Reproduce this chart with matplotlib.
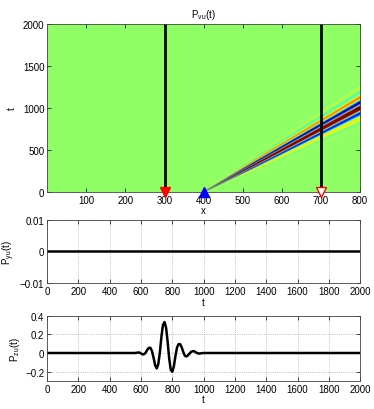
import matplotlib
matplotlib.use("Agg")
import matplotlib.pyplot as plt
import numpy as np

plt.rcParams["font.family"] = ["Liberation Sans", "DejaVu Sans"]
plt.rcParams["mathtext.fontset"] = "custom"
plt.rcParams["mathtext.rm"] = "Liberation Sans"
plt.rcParams["font.size"] = 7

# receivers / source on the x axis
RECEIVER_X = [300, 700]
SOURCE_X = 400
WAVE_SPEED = 0.4

# P_zu(t)
PZU_T = [0, 550, 560, 570, 580, 590, 600, 610, 620, 630, 640, 650, 660, 670, 680,
         690, 700, 710, 720, 730, 740, 750, 760, 770, 780, 790, 800, 810, 820,
         830, 840, 850, 860, 870, 880, 890, 900, 910, 920, 930, 940, 950, 960,
         970, 980, 990, 1000, 2000]
PZU_V = [0.0, 0.0, 0.0, 0.002, 0.005, 0.005, -0.005, -0.015, -0.012, 0.005, 0.035,
         0.055, 0.055, 0.02, -0.05, -0.13, -0.165, -0.12, 0.0, 0.17, 0.30, 0.33,
         0.27, 0.12, -0.06, -0.18, -0.20, -0.14, -0.03, 0.06, 0.095, 0.095, 0.06,
         0.01, -0.03, -0.037, -0.025, -0.005, 0.012, 0.02, 0.018, 0.008, -0.002,
         -0.006, -0.004, -0.001, 0.0, 0.0]

# P_yu(t) is flat zero
PYU_T = [0, 2000]
PYU_V = [0.0, 0.0]

# P_vu(x, t): the recorded pulse travelling away from the source, spreading with distance
xs = np.arange(0, 801, 2)
ts = np.arange(0, 2001, 4)
X, T = np.meshgrid(xs, ts)
dist = X - SOURCE_X
stretch = 350.0 / np.maximum(X - 340.0, 1.0)
tau = 750 + (T - dist / WAVE_SPEED) * stretch
amp = np.clip(0.5 + dist / 250.0, 0, 1)
field = np.interp(tau, PZU_T, PZU_V) * amp
field[X < SOURCE_X] = 0.0

fig = plt.figure(figsize=(3.74, 4.10), dpi=100)
ax1 = fig.add_axes([0.126, 0.529, 0.837, 0.410])
ax2 = fig.add_axes([0.126, 0.307, 0.837, 0.155])
ax3 = fig.add_axes([0.126, 0.068, 0.837, 0.160])

ax1.imshow(field, origin="lower", extent=[0, 800, 0, 2000], aspect="auto",
           cmap="jet", vmin=-0.2, vmax=0.18, interpolation="bilinear")
for rx in RECEIVER_X:
    ax1.plot([rx, rx], [0, 2000], color="black", lw=2)
ax1.plot(RECEIVER_X[0], 0, marker="v", color="red", ms=6.5, clip_on=False, zorder=5)
ax1.plot(SOURCE_X, 0, marker="^", color="blue", ms=6.5, clip_on=False, zorder=5)
ax1.plot(RECEIVER_X[1], 0, marker="v", mfc="white", mec="red", ms=6.5, clip_on=False, zorder=5)
ax1.set_xlim(0, 800)
ax1.set_ylim(0, 2000)
ax1.set_xticks([100, 200, 300, 400, 500, 600, 700, 800])
ax1.set_yticks([0, 500, 1000, 1500, 2000])
ax1.set_xlabel("x", labelpad=0)
ax1.set_ylabel("t")
ax1.set_title(r"$\mathregular{P_{vu}(t)}$", fontsize=7, pad=5)

ax2.plot(PYU_T, PYU_V, color="black", lw=1.8)
ax2.set_xlim(0, 2000)
ax2.set_ylim(-0.01, 0.01)
ax2.set_xticks(np.arange(0, 2001, 200))
ax2.set_yticks([-0.01, 0, 0.01])
ax2.set_yticklabels(["\u22120.01", "0", "0.01"])
ax2.set_xlabel("t", labelpad=1)
ax2.set_ylabel(r"$\mathregular{P_{yu}(t)}$", labelpad=2)

ax3.plot(PZU_T, PZU_V, color="black", lw=1.8)
ax3.set_xlim(0, 2000)
ax3.set_ylim(-0.3, 0.4)
ax3.set_xticks(np.arange(0, 2001, 200))
ax3.set_yticks([-0.2, 0, 0.2, 0.4])
ax3.set_yticklabels(["\u22120.2", "0", "0.2", "0.4"])
ax3.set_xlabel("t", labelpad=0)
ax3.set_ylabel(r"$\mathregular{P_{zu}(t)}$", labelpad=2)

for ax in (ax1, ax2, ax3):
    ax.tick_params(direction="in", top=True, right=True, length=3, width=0.5, pad=2)
    for s in ax.spines.values():
        s.set_linewidth(0.6)
        s.set_color("#444444")
for ax in (ax2, ax3):
    ax.grid(True, linestyle=":", color="#aaaaaa", lw=0.6)

fig.savefig("out.png", dpi=100)
